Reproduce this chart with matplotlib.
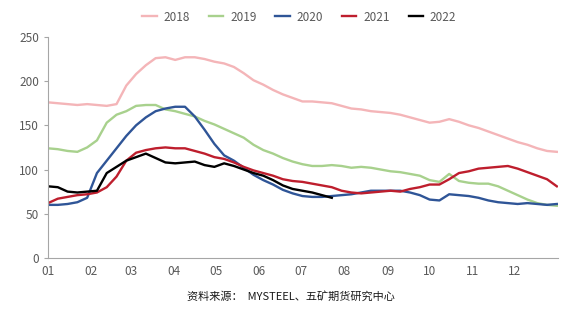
import numpy as np
import matplotlib.pyplot as plt

plt.rcParams['font.family'] = ['Noto Sans CJK SC', 'DejaVu Sans']

# weekly readings, week 0 = first week of January
v2018 = [176, 175, 174, 173, 174, 173, 172, 174, 195, 208, 218, 226, 227, 224, 227, 227,
         225, 222, 220, 216, 209, 201, 196, 190, 185, 181, 177, 177, 176, 175, 172, 169,
         168, 166, 165, 164, 162, 159, 156, 153, 154, 157, 154, 150, 147, 143, 139, 135,
         131, 128, 124, 121, 120]
v2019 = [124, 123, 121, 120, 125, 133, 153, 162, 166, 172, 173, 173, 168, 166, 163, 160,
         155, 151, 146, 141, 136, 128, 122, 118, 113, 109, 106, 104, 104, 105, 104, 102,
         103, 102, 100, 98, 97, 95, 93, 88, 86, 95, 87, 85, 84, 84, 81, 76,
         71, 66, 62, 60, 59]
v2020 = [60, 60, 61, 63, 68, 96, 110, 124, 138, 150, 159, 166, 169, 171, 171, 160,
         145, 129, 116, 110, 102, 94, 88, 83, 77, 73, 70, 69, 69, 70, 71, 72,
         74, 76, 76, 76, 76, 74, 71, 66, 65, 72, 71, 70, 68, 65, 63, 62,
         61, 62, 61, 60, 61]
v2021 = [62, 67, 69, 71, 72, 74, 80, 92, 110, 119, 122, 124, 125, 124, 124, 121,
         118, 114, 112, 108, 103, 99, 96, 93, 89, 87, 86, 84, 82, 80, 76, 74,
         73, 74, 75, 76, 75, 78, 80, 83, 83, 89, 96, 98, 101, 102, 103, 104,
         101, 97, 93, 89, 81]
v2022 = [81, 80, 75, 74, 75, 76, 96, 103, 110, 114, 118, 113, 108, 107, 108, 109,
         105, 103, 107, 104, 100, 96, 93, 88, 82, 78, 76, 74, 71, 68]

years = ['2018', '2019', '2020', '2021', '2022']
colors = ['#F4B5B8', '#A8D18D', '#2F5597', '#BE1E2D', '#000000']
series = [v2018, v2019, v2020, v2021, v2022]

month_labels = ['01', '02', '03', '04', '05', '06', '07', '08', '09', '10', '11', '12']
month_start = [0, 31, 59, 90, 120, 151, 181, 212, 243, 273, 304, 334]

fig = plt.figure(figsize=(5.65, 3.24), dpi=100)
ax = fig.add_axes([0.085, 0.204, 0.903, 0.682])

for name, col, vals in zip(years, colors, series):
    days = np.arange(len(vals)) * 7
    ax.plot(days, vals, color=col, lw=1.7, label=name)

ax.set_xlim(0, 365)
ax.set_ylim(0, 250)
ax.set_yticks(range(0, 251, 50))
ax.set_xticks(month_start)
ax.set_xticklabels(month_labels)

for side in ['top', 'right']:
    ax.spines[side].set_visible(False)
for side in ['left', 'bottom']:
    ax.spines[side].set_color('#A6A6A6')
ax.tick_params(axis='y', colors='#595959', labelsize=8.5, length=3, color='#A6A6A6')
ax.tick_params(axis='x', colors='#595959', labelsize=8.5, length=0, pad=5)

leg = fig.legend(loc='upper center', bbox_to_anchor=(0.53, 1.0), ncol=5, frameon=False,
                 fontsize=8.5, handlelength=1.2, handletextpad=0.6, columnspacing=1.6)
for t in leg.get_texts():
    t.set_color('#595959')

fig.text(0.515, 0.085, '资料来源：  MYSTEEL、五矿期货研究中心', ha='center', va='center',
         fontsize=8, color='#1a1a1a')

fig.savefig('out.png', dpi=100)
